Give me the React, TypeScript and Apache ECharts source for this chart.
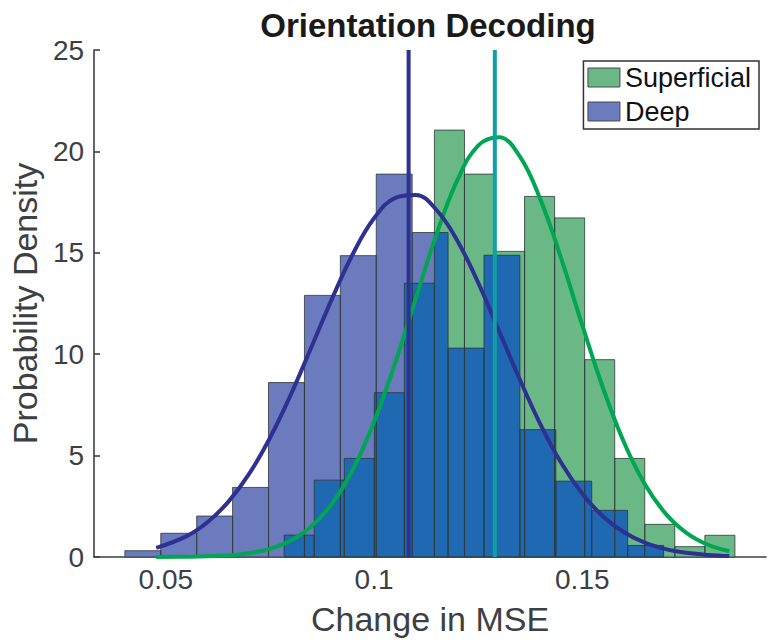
import React, { useEffect, useRef } from "react";
import * as echarts from "echarts";

// Histogram bins (probability density per bin)
const superficialBinStart = 0.07842;
const superficialBinWidth = 0.007215;
const superficialDensity = [1.08, 3.79, 4.86, 8.1, 13.5, 21.05, 18.88, 15.07, 17.78, 16.72, 9.73, 4.86, 1.61, 0.51, 1.07];

const deepBinStart = 0.04017;
const deepBinWidth = 0.008623;
const deepDensity = [0.31, 1.17, 2.02, 3.43, 8.6, 12.9, 14.86, 18.88, 16.0, 10.3, 14.88, 6.28, 3.74, 2.3, 0.57];

// Fitted normal density curves
const fitX = [
  0.0477, 0.055, 0.06, 0.065, 0.07, 0.075, 0.08, 0.085, 0.09, 0.095, 0.1, 0.105, 0.11, 0.115,
  0.12, 0.125, 0.13, 0.135, 0.14, 0.145, 0.15, 0.155, 0.16, 0.165, 0.17, 0.175, 0.18, 0.1853,
];
const deepFit = [
  0.447, 1.031, 1.715, 2.72, 4.1, 5.87, 8.0, 10.37, 12.78, 14.98, 16.7, 17.7, 17.85, 17.11,
  15.6, 13.53, 11.15, 8.75, 6.52, 4.62, 3.12, 2.0, 1.22, 0.707, 0.39, 0.205, 0.102, 0.046,
];
const superficialFit = [
  0.0027, 0.0127, 0.033, 0.082, 0.188, 0.404, 0.81, 1.518, 2.66, 4.35, 6.66, 9.52, 12.73, 15.91,
  18.58, 20.29, 20.7, 19.75, 17.6, 14.67, 11.43, 8.32, 5.66, 3.6, 2.14, 1.19, 0.618, 0.287,
];

// Means of the two distributions
const deepMean = 0.1083;
const superficialMean = 0.129;

const xTicks = [0.05, 0.1, 0.15];
const xMin = 0.03277;
const xMax = 0.19411;
const yMax = 25;

const FONT = "'Liberation Sans', Arial, Helvetica, sans-serif";
const AXIS_COLOR = "#3b4043";

const GREEN_FILL = "#69b886";
const DEEP_FILL = "#6b7bbd";
const OVERLAP_FILL = "#1e69b2";
const EDGE = "rgba(45,55,55,0.8)";

type Bin = [number, number, number];

function toBins(start: number, width: number, dens: number[]): Bin[] {
  return dens.map((h, i) => [start + i * width, start + (i + 1) * width, h] as Bin);
}

function heightAt(bins: Bin[], x: number): number {
  for (const [a, b, h] of bins) if (x >= a && x < b) return h;
  return 0;
}

const superficialBins = toBins(superficialBinStart, superficialBinWidth, superficialDensity);
const deepBins = toBins(deepBinStart, deepBinWidth, deepDensity);

// Region where both histograms overlap (drawn in a darker blended tone)
function overlapBins(a: Bin[], b: Bin[]): Bin[] {
  const edges = Array.from(new Set([...a, ...b].flatMap(([l, r]) => [l, r]))).sort((p, q) => p - q);
  const out: Bin[] = [];
  for (let i = 0; i < edges.length - 1; i++) {
    const mid = (edges[i] + edges[i + 1]) / 2;
    const h = Math.min(heightAt(a, mid), heightAt(b, mid));
    if (h > 0) out.push([edges[i], edges[i + 1], h]);
  }
  return out;
}
const overlap = overlapBins(superficialBins, deepBins);

function rectRenderer(fill: string, stroke: string | null, lineWidth = 1) {
  return (_params: any, api: any) => {
    const top = api.coord([api.value(0), api.value(2)]);
    const bottom = api.coord([api.value(1), 0]);
    return {
      type: "rect",
      shape: { x: top[0], y: top[1], width: bottom[0] - top[0], height: bottom[1] - top[1] },
      style: { fill, stroke: stroke ?? "none", lineWidth },
    };
  };
}

function histSeries(name: string, data: Bin[], fill: string, stroke: string | null, z: number) {
  return {
    type: "custom",
    name,
    data,
    z,
    silent: true,
    encode: { x: [0, 1], y: 2 },
    itemStyle: { color: fill },
    renderItem: rectRenderer(fill, stroke),
  };
}

function lineSeries(name: string, data: number[][], color: string, z: number, smooth: number | boolean) {
  return {
    type: "line",
    name,
    data,
    z,
    silent: true,
    showSymbol: false,
    symbol: "none",
    smooth,
    lineStyle: { color, width: 4 },
  };
}

export default function App() {
  const ref = useRef<HTMLDivElement>(null);

  useEffect(() => {
    if (!ref.current) return;
    const chart = echarts.init(ref.current, undefined, { renderer: "svg" });
    chart.setOption({
      animation: false,
      backgroundColor: "#ffffff",
      title: {
        text: "Orientation Decoding",
        left: 428,
        top: 9,
        padding: 0,
        textAlign: "center",
        textStyle: { fontFamily: FONT, fontWeight: "bold", fontSize: 33, color: "#1a1a1a" },
      },
      legend: {
        orient: "vertical",
        right: 9,
        top: 61,
        itemWidth: 32,
        itemHeight: 19,
        itemGap: 7,
        padding: [3, 8, 4, 4],
        borderColor: "#333",
        borderWidth: 1.5,
        borderRadius: 0,
        backgroundColor: "#ffffff",
        selectedMode: false,
        icon: "rect",
        textStyle: { fontFamily: FONT, fontSize: 27, color: "#111" },
        data: [
          { name: "Superficial", itemStyle: { color: GREEN_FILL, borderColor: "#4a4a4a", borderWidth: 1 } },
          { name: "Deep", itemStyle: { color: DEEP_FILL, borderColor: "#4a4a4a", borderWidth: 1 } },
        ],
      },
      grid: { left: 90, right: 2, top: 50, bottom: 87 },
      xAxis: {
        type: "value",
        min: xMin,
        max: xMax,
        name: "Change in MSE",
        nameLocation: "middle",
        nameGap: 45,
        nameTextStyle: { fontFamily: FONT, fontSize: 34, color: AXIS_COLOR },
        axisLine: { show: true, onZero: false, lineStyle: { color: AXIS_COLOR, width: 1.6 } },
        axisTick: { show: true, inside: true, length: 6, customValues: xTicks, lineStyle: { color: AXIS_COLOR, width: 1.6 } },
        axisLabel: { customValues: xTicks, fontFamily: FONT, fontSize: 28, color: AXIS_COLOR, margin: 8 },
        splitLine: { show: false },
      },
      yAxis: {
        type: "value",
        min: 0,
        max: yMax,
        interval: 5,
        name: "Probability Density",
        nameLocation: "middle",
        nameGap: 46,
        nameTextStyle: { fontFamily: FONT, fontSize: 34, color: AXIS_COLOR },
        axisLine: { show: true, lineStyle: { color: AXIS_COLOR, width: 1.6 } },
        axisTick: { show: true, inside: true, length: 6, lineStyle: { color: AXIS_COLOR, width: 1.6 } },
        axisLabel: { fontFamily: FONT, fontSize: 28, color: AXIS_COLOR, margin: 10 },
        splitLine: { show: false },
      },
      series: [
        histSeries("Superficial", superficialBins, GREEN_FILL, null, 1),
        histSeries("Deep", deepBins, DEEP_FILL, null, 2),
        histSeries("overlap", overlap, OVERLAP_FILL, null, 3),
        histSeries("superficialEdges", superficialBins, "none", EDGE, 4),
        histSeries("deepEdges", deepBins, "none", EDGE, 4),
        lineSeries("superficialFit", fitX.map((x, i) => [x, superficialFit[i]]), "#00a651", 5, 0.4),
        lineSeries("deepFit", fitX.map((x, i) => [x, deepFit[i]]), "#2e3192", 5, 0.4),
        lineSeries("deepMean", [[deepMean, 0], [deepMean, yMax]], "#2e3192", 6, false),
        lineSeries("superficialMean", [[superficialMean, 0], [superficialMean, yMax]], "#0fa0a6", 6, false),
      ],
    });
    return () => chart.dispose();
  }, []);

  return (
    <div
      ref={ref}
      style={{ position: "fixed", left: 0, top: 0, width: 768, height: 644, background: "#fff" }}
    />
  );
}
